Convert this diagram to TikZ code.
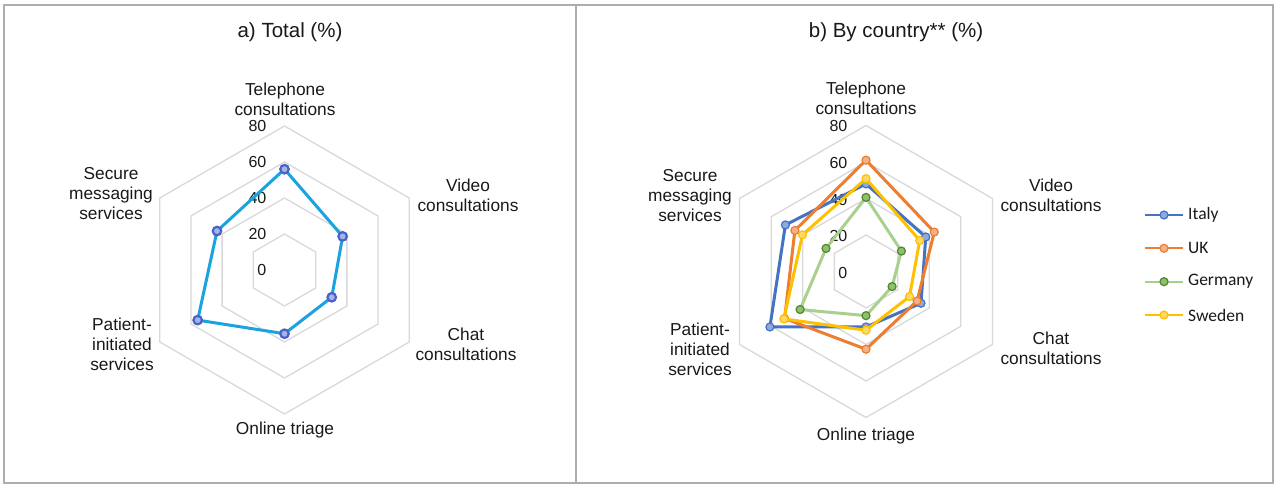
\documentclass[tikz,border=0pt]{standalone}
\usepackage{fontspec}
\setmainfont{Liberation Sans}
\newfontfamily\legfont{Carlito}
\definecolor{framec}{HTML}{ADADAD}
\definecolor{gridc}{HTML}{D9D9D9}
\definecolor{totline}{HTML}{1BA3E0}
\definecolor{totedge}{HTML}{4A62C8}
\definecolor{totfill}{HTML}{A3B4EA}
\definecolor{itl}{HTML}{4472C4}
\definecolor{itf}{HTML}{8FAADC}
\definecolor{ukl}{HTML}{ED7D31}
\definecolor{ukf}{HTML}{F4B183}
\definecolor{del}{HTML}{A9D18E}
\definecolor{dee}{HTML}{548235}
\definecolor{def}{HTML}{8CC36A}
\definecolor{swl}{HTML}{FFC000}
\definecolor{swf}{HTML}{FFD966}
\tikzset{
  frame/.style={draw=framec, line width=1.8pt},
  gridline/.style={draw=gridc, line width=1.3pt, line join=miter},
  lab/.style={font=\fontsize{17.3}{20}\selectfont, align=center, inner sep=0pt, text=black!90},
  num/.style={font=\fontsize{16}{18}\selectfont, anchor=east, inner sep=0pt, text=black!90},
  ttl/.style={font=\fontsize{20.5}{24}\selectfont, inner sep=0pt, text=black!90},
  leg/.style={font=\legfont\fontsize{17.5}{20}\selectfont, anchor=west, inner sep=0pt, text=black!90},
  tot/.style={draw=totline, line width=3pt, line join=round},
  totm/.style={circle, draw=totedge, fill=totfill, line width=2.2pt, minimum size=8.5pt, inner sep=0pt},
  ser/.style={draw=#1, line width=3pt, line join=round},
  legline/.style={draw=#1, line width=2.2pt},
  mk/.style 2 args={circle, draw=#1, fill=#2, line width=1.2pt, minimum size=8pt, inner sep=0pt},
}
\begin{document}
\begin{tikzpicture}[x=1pt,y=1pt]
\useasboundingbox (0,0) rectangle (1280,489);
\fill[white] (0,0) rectangle (1280,489);
% frames
\coordinate (fa) at (4,5.7);
\coordinate (fb) at (1273.3,484.3);
\coordinate (dtop) at (575.7,484.3);
\coordinate (dbot) at (575.7,5.7);
\draw[frame] (fa) rectangle (fb);
\draw[frame] (dtop) -- (dbot);
% titles
\node[ttl] (ta) at (290,457) {a) Total (\%)};
\node[ttl] (tb) at (896,457) {b) By country** (\%)};

% ---------- left chart ----------
\begin{scope}[shift={(284.5,219)}]
\def\s{1.8}
\foreach \r in {20,40,60,80}
  \draw[gridline] (90:{\r*\s}) -- (30:{\r*\s}) -- (-30:{\r*\s}) -- (-90:{\r*\s}) -- (-150:{\r*\s}) -- (150:{\r*\s}) -- cycle;
\foreach \r in {0,20,40,60,80}
  \node[num] (nl\r) at (-18,{\r*\s}) {\r};
\coordinate (L1) at (90:{56*\s});
\coordinate (L2) at (30:{37.3*\s});
\coordinate (L3) at (-30:{30.3*\s});
\coordinate (L4) at (-90:{35.4*\s});
\coordinate (L5) at (-150:{55.7*\s});
\coordinate (L6) at (150:{43.3*\s});
\draw[tot] (L1) -- (L2) -- (L3) -- (L4) -- (L5) -- (L6) -- cycle;
\foreach \i in {1,...,6} \node[totm] (mL\i) at (L\i) {};
\node[lab] (la1) at (0.5,171) {Telephone\\consultations};
\node[lab] (la2) at (183.5,74.5) {Video\\consultations};
\node[lab] (la3) at (181.5,-74.5) {Chat\\consultations};
\node[lab] (la4) at (0.5,-160) {Online triage};
\node[lab] (la5) at (-162.5,-74) {Patient-\\initiated\\services};
\node[lab] (la6) at (-173.5,76) {Secure\\messaging\\services};
\end{scope}

% ---------- right chart ----------
\begin{scope}[shift={(866,217.5)}]
\def\s{1.825}
\foreach \r in {20,40,60,80}
  \draw[gridline] (90:{\r*\s}) -- (30:{\r*\s}) -- (-30:{\r*\s}) -- (-90:{\r*\s}) -- (-150:{\r*\s}) -- (150:{\r*\s}) -- cycle;
\foreach \r in {0,20,40,60,80}
  \node[num] (nr\r) at (-18.5,{\r*\s-1}) {\r};
% Italy
\coordinate (I1) at (90:{48*\s});
\coordinate (I2) at (30:{37.8*\s});
\coordinate (I3) at (-30:{34.8*\s});
\coordinate (I4) at (-90:{30.4*\s});
\coordinate (I5) at (-150:{60.8*\s});
\coordinate (I6) at (150:{51*\s});
% UK
\coordinate (U1) at (90:{61*\s});
\coordinate (U2) at (30:{43.2*\s});
\coordinate (U3) at (-30:{32.3*\s});
\coordinate (U4) at (-90:{42.6*\s});
\coordinate (U5) at (-150:{51.5*\s});
\coordinate (U6) at (150:{45*\s});
% Germany
\coordinate (G1) at (90:{40.6*\s});
\coordinate (G2) at (30:{22.4*\s});
\coordinate (G3) at (-30:{16.5*\s});
\coordinate (G4) at (-90:{24.2*\s});
\coordinate (G5) at (-150:{41.7*\s});
\coordinate (G6) at (150:{25.3*\s});
% Sweden
\coordinate (S1) at (90:{50.9*\s});
\coordinate (S2) at (30:{34*\s});
\coordinate (S3) at (-30:{27.5*\s});
\coordinate (S4) at (-90:{32.2*\s});
\coordinate (S5) at (-150:{52*\s});
\coordinate (S6) at (150:{40.2*\s});
\draw[ser=itl] (I1) -- (I2) -- (I3) -- (I4) -- (I5) -- (I6) -- cycle;
\foreach \i in {1,...,6} \node[mk={itl}{itf}] (mI\i) at (I\i) {};
\draw[ser=ukl] (U1) -- (U2) -- (U3) -- (U4) -- (U5) -- (U6) -- cycle;
\foreach \i in {1,...,6} \node[mk={ukl}{ukf}] (mU\i) at (U\i) {};
\draw[ser=del] (G1) -- (G2) -- (G3) -- (G4) -- (G5) -- (G6) -- cycle;
\foreach \i in {1,...,6} \node[mk={dee}{def}] (mG\i) at (G\i) {};
\draw[ser=swl] (S1) -- (S2) -- (S3) -- (S4) -- (S5) -- (S6) -- cycle;
\foreach \i in {1,...,6} \node[mk={swl}{swf}] (mS\i) at (S\i) {};
\node[lab] (lb1) at (0,173.5) {Telephone\\consultations};
\node[lab] (lb2) at (185,76.5) {Video\\consultations};
\node[lab] (lb3) at (185,-76.5) {Chat\\consultations};
\node[lab] (lb4) at (0,-164.5) {Online triage};
\node[lab] (lb5) at (-166,-78) {Patient-\\initiated\\services};
\node[lab] (lb6) at (-176,76) {Secure\\messaging\\services};
\end{scope}

% ---------- legend ----------
\foreach \n/\lc/\ec/\fc/\yy/\t in {1/itl/itl/itf/274/Italy, 2/ukl/ukl/ukf/240.7/UK, 3/del/dee/def/207.3/Germany, 4/swl/swl/swf/174/Sweden}{
  \coordinate (ga\n) at (1145,\yy);
  \coordinate (gb\n) at (1183,\yy);
  \draw[legline=\lc] (ga\n) -- (gb\n);
  \node[mk={\ec}{\fc}] (gm\n) at (1164,\yy) {};
  \node[leg] (gt\n) at (1188,\yy) {\t};
}
\end{tikzpicture}
\end{document}
